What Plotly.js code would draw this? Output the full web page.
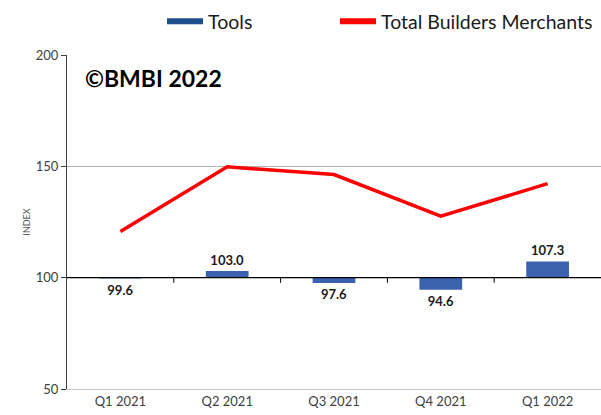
<!DOCTYPE html>
<html><head><meta charset="utf-8">
<script src="https://cdn.plot.ly/plotly-3.0.1.min.js"></script>
<style>body{margin:0;background:#fff}#chart{width:601px;height:415px}</style>
</head><body><div id="chart"></div>
<script>
const categories = ["Q1 2021","Q2 2021","Q3 2021","Q4 2021","Q1 2022"];
const tools = [99.6, 103.0, 97.6, 94.6, 107.3];
const totalBM = [120.7, 149.8, 146.3, 127.6, 142.2];
const toolLabels = ["99.6","103.0","97.6","94.6","107.3"];
const baseIndex = 100;

const font = "Lato, 'Open Sans', sans-serif";

const traces = [
  {type:'bar', x:categories, y:tools.map(v=>v-baseIndex), base:baseIndex,
   marker:{color:'#3B63AD'}, width:0.4, showlegend:false,
   text:toolLabels, textposition:'outside', cliponaxis:false,
   textfont:{family:font, size:13, color:'#1a1a1a', weight:'bold'},
   hoverinfo:'skip'},
  {type:'scatter', mode:'lines', x:categories, y:totalBM,
   line:{color:'#FF0000', width:3.5}, showlegend:false},
  {type:'scatter', mode:'lines', x:[null], y:[null], name:'Tools',
   line:{color:'#1F4E8C', width:6}, legend:'legend'},
  {type:'scatter', mode:'lines', x:[null], y:[null], name:'Total Builders Merchants',
   line:{color:'#FF0000', width:6}, legend:'legend2'}
];

const boundaryTicks = [0.5,1.5,2.5,3.5].map(b=>({type:'line', xref:'x', yref:'y',
  x0:b, x1:b, y0:baseIndex, y1:baseIndex-2.3, line:{color:'#000', width:1}}));

const legendBase = {orientation:'h', xanchor:'left', xref:'container',
  y:0.995, yanchor:'top', yref:'container',
  font:{size:19.5, color:'#1a1a1a', family:font},
  itemwidth:36, bgcolor:'rgba(0,0,0,0)'};

const layout = {
  width:601, height:415,
  margin:{l:67, r:0, t:55, b:26},
  paper_bgcolor:'#fff', plot_bgcolor:'#fff',
  font:{family:font, color:'#404040'},
  showlegend:true,
  legend:Object.assign({}, legendBase, {x:0.2696}),
  legend2:Object.assign({}, legendBase, {x:0.5574}),
  xaxis:{type:'category', range:[-0.5,4.5], showgrid:false, zeroline:false,
    showline:true, linecolor:'#c8c8c8', linewidth:1, ticks:'',
    tickfont:{size:13, color:'#404040'}, fixedrange:true},
  yaxis:{range:[50,200], tickvals:[50,100,150,200], showgrid:true,
    gridcolor:'#b3b3b3', gridwidth:1, zeroline:false,
    showline:true, linecolor:'#404040', linewidth:1,
    ticks:'outside', ticklen:5, tickcolor:'#404040',
    tickfont:{size:13, color:'#404040'},
    title:{text:'INDEX', font:{size:9, color:'#595959'}, standoff:3}},
  shapes:[
    {type:'line', xref:'paper', yref:'y', x0:0, x1:1, y0:baseIndex, y1:baseIndex,
     line:{color:'#000', width:1.2}},
    ...boundaryTicks
  ],
  annotations:[
    {text:'©BMBI 2022', xref:'paper', yref:'paper', x:0.03, y:0.93,
     xanchor:'left', yanchor:'middle', showarrow:false,
     font:{family:font, size:23, color:'#000', weight:'bold'}}
  ]
};

Plotly.newPlot('chart', traces, layout, {displayModeBar:false, staticPlot:true});
</script></body></html>
